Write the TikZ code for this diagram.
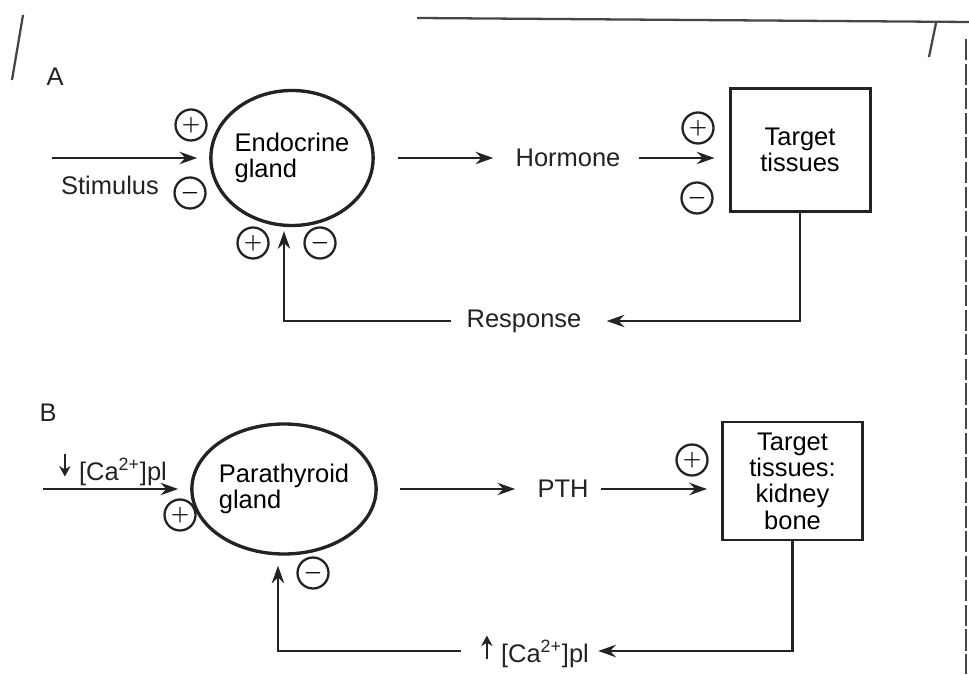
\documentclass[tikz,border=0pt]{standalone}
\usepackage{fontspec}
\setmainfont{Liberation Sans}
\usepackage{tikz}
\usetikzlibrary{shapes.geometric, arrows.meta, positioning, calc}
\definecolor{ink}{RGB}{35,35,35}
\definecolor{edgegray}{RGB}{70,70,70}
\tikzset{
  gland/.style={ellipse, draw=ink, line width=1.9pt,
    minimum width=3.1cm, minimum height=2.7cm, align=left, inner sep=0pt},
  tissue/.style={rectangle, draw=ink, line width=1.7pt,
    minimum width=2.8cm, minimum height=2.45cm, align=center, inner sep=0pt},
  sign/.style={circle, draw=ink, line width=1.3pt, minimum size=0.62cm,
    inner sep=0pt, font=\fontsize{12}{12}\selectfont\boldmath},
  tag/.style={inner sep=0pt, text=ink},
  arrow/.style={-{Stealth[length=10pt, width=7pt]}, line width=1.5pt, color=ink},
  edge/.style={line width=1.3pt, color=edgegray}
}
\newcommand{\levelup}{\tikz[baseline=-2pt]\draw[-{Stealth[length=6pt, width=6.5pt]}, line width=1.1pt, ink] (0,0) -- (0,0.46);}
\newcommand{\leveldown}{\tikz[baseline=-2pt]\draw[-{Stealth[length=6pt, width=6.5pt]}, line width=1.1pt, ink] (0,0.46) -- (0,0);}

\begin{document}
\begin{tikzpicture}[every node/.style={font=\fontsize{14.5}{15}\selectfont}]
  \useasboundingbox (0,0) rectangle (19.38,13.48);

  % page edges
  \draw[edge] (0.46,13.18) -- (0.24,11.88);
  \draw[edge] (8.34,13.12) -- (19.38,13.04);
  \draw[edge] (18.72,13.02) -- (18.58,12.34);
  \draw[edge, dash pattern=on 12pt off 2pt] (19.32,12.7) -- (19.32,0);

  % Panel A
  \node[tag] (panelA) at (1.10,11.94) {A};
  \node[gland] (glandA) at (5.84,10.32) {Endocrine\\gland};
  \node[tag] (stimulus) at (2.2,9.78) {Stimulus};
  \coordinate (stimA) at (1.04,10.32);
  \draw[arrow] (stimA) -- ([xshift=-0.24cm]glandA.west);
  \node[sign] (plusA1) at (3.82,10.98) {$+$};
  \node[sign] (minusA1) at (3.80,9.62) {$-$};

  \node[tag] (hormone) at (11.36,10.32) {Hormone};
  \draw[arrow, shorten <=0.46cm, shorten >=0.44cm] (glandA.east) -- (hormone.west);

  \node[tissue] (tissueA) at (16.0,10.48) {Target\\tissues};
  \draw[arrow, shorten <=0.36cm, shorten >=0.28cm] (hormone.east) -- (hormone.east -| tissueA.west);
  \node[sign] (plusA2) at (13.96,10.92) {$+$};
  \node[sign] (minusA2) at (13.94,9.52) {$-$};

  % feedback A
  \node[tag] (response) at (10.48,7.06) {Response};
  \draw[arrow, shorten >=0.5cm] (tissueA.south) |- (response.east);
  \coordinate (cornerA) at (5.68,7.06);
  \draw[arrow, shorten <=0.3cm, shorten >=0.08cm] (response.west) -- (cornerA) -- (cornerA |- glandA.south);
  \node[sign] (plusA3) at (5.06,8.62) {$+$};
  \node[sign] (minusA3) at (6.40,8.62) {$-$};

  % Panel B
  \node[tag] (panelB) at (0.96,5.22) {B};
  \node[gland, minimum width=3.16cm, minimum height=2.6cm] (glandB) at (5.68,3.70) {Parathyroid\\gland};
  \node[tag] (calcLow) at (2.26,4.10) {\leveldown\,\,[Ca\textsuperscript{2+}]pl};
  \coordinate (stimB) at (0.86,3.70);
  \draw[arrow] (stimB) -- ([xshift=-0.24cm]glandB.west);
  \node[sign] (plusB1) at (3.60,3.18) {$+$};

  \node[tag] (pth) at (11.26,3.70) {PTH};
  \draw[arrow, shorten <=0.44cm, shorten >=0.44cm] (glandB.east) -- (pth.west);

  \node[tissue, minimum height=2.36cm] (tissueB) at (15.85,3.86) {Target\\tissues:\\kidney\\bone};
  \draw[arrow, shorten <=0.24cm, shorten >=0.28cm] (pth.east) -- (pth.east -| tissueB.west);
  \node[sign] (plusB2) at (13.84,4.28) {$+$};

  % feedback B
  \node[tag] (calcHigh) at (10.70,0.46) {\levelup\,\,[Ca\textsuperscript{2+}]pl};
  \draw[arrow, shorten >=0.18cm] (tissueB.south) |- (calcHigh.east);
  \coordinate (cornerB) at (5.56,0.46);
  \draw[arrow, shorten <=0.4cm, shorten >=0.2cm] (calcHigh.west) -- (cornerB) -- (cornerB |- glandB.south);
  \node[sign] (minusB1) at (6.26,2.02) {$-$};
\end{tikzpicture}
\end{document}
